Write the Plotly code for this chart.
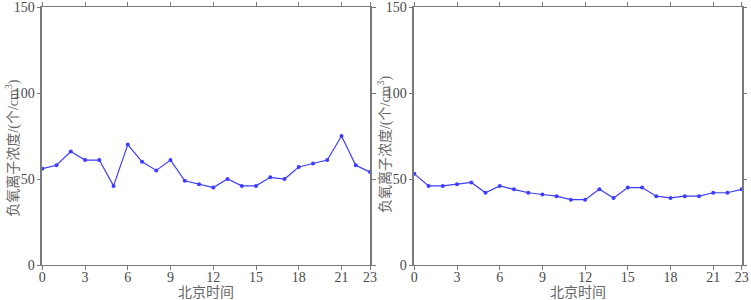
import plotly.graph_objects as go

hours = list(range(24))
left_vals = [56, 58, 66, 61, 61, 46, 70, 60, 55, 61, 49, 47, 45, 50, 46, 46, 51, 50, 57, 59, 61, 75, 58, 54]
right_vals = [53, 46, 46, 47, 48, 42, 46, 44, 42, 41, 40, 38, 38, 44, 39, 45, 45, 40, 39, 40, 40, 42, 42, 44]
x_ticks = [0, 3, 6, 9, 12, 15, 18, 21, 23]
y_ticks = [0, 50, 100, 150]
x_title = "北京时间"
y_title = "负氧离子浓度/(个/cm<sup>3</sup>)"

line_color = "#3d3dff"
axis_color = "#7a7a7a"
text_color = "#4a4a4a"
tick_font = dict(family="Liberation Serif", size=14, color=text_color)
cjk_font = dict(family="Liberation Serif, Noto Sans CJK SC", size=14, color="#666666")

fig = go.Figure()
for i, vals in enumerate([left_vals, right_vals]):
    fig.add_trace(go.Scatter(
        x=hours, y=vals, mode="lines+markers",
        line=dict(color=line_color, width=1.2),
        marker=dict(size=4, color=line_color),
        xaxis="x" if i == 0 else "x2",
        yaxis="y" if i == 0 else "y2",
        showlegend=False, cliponaxis=False,
    ))

def xaxis(domain, anchor):
    return dict(domain=domain, anchor=anchor, range=[0, 23], tickvals=x_ticks,
                ticks="outside", ticklen=4, tickcolor=axis_color, mirror="ticks",
                showline=True, linecolor=axis_color, linewidth=1, showgrid=False,
                zeroline=False, tickfont=tick_font, automargin=False,
                ticklabeloverflow="allow", ticklabelstandoff=-5)

def yaxis(anchor):
    return dict(domain=[0, 1], anchor=anchor, range=[0, 150], tickvals=y_ticks,
                ticks="outside", ticklen=4, tickcolor=axis_color, mirror="ticks",
                showline=True, linecolor=axis_color, linewidth=1.5, showgrid=False,
                zeroline=False, tickfont=tick_font, ticklabelstandoff=-1, automargin=False,
                ticklabeloverflow="allow")

fig.update_layout(
    width=751, height=300,
    margin=dict(l=0, r=0, t=7, b=35, autoexpand=False),
    paper_bgcolor="white", plot_bgcolor="white",
    xaxis=xaxis([0.0563, 0.4927], "y"),
    yaxis=yaxis("x"),
    xaxis2=xaxis([0.5517, 0.9876], "y2"),
    yaxis2=yaxis("x2"),
)

for xp, yp in [(12.5 / 751, 0.453), (384 / 751, 0.465)]:
    fig.add_annotation(text=y_title, xref="paper", yref="paper", x=xp, y=yp,
                       xanchor="center", yanchor="middle", textangle=-90,
                       showarrow=False, font=cjk_font)

for xp in [(42 + 370) / 2 / 751, (414 + 742) / 2 / 751]:
    fig.add_annotation(text=x_title, xref="paper", yref="paper", x=xp, y=-27 / 258,
                       xanchor="center", yanchor="middle",
                       showarrow=False, font=cjk_font)

fig.write_html("out.html", config={"displayModeBar": False},
               post_script="document.body.style.margin='0';document.body.style.overflow='hidden';")
